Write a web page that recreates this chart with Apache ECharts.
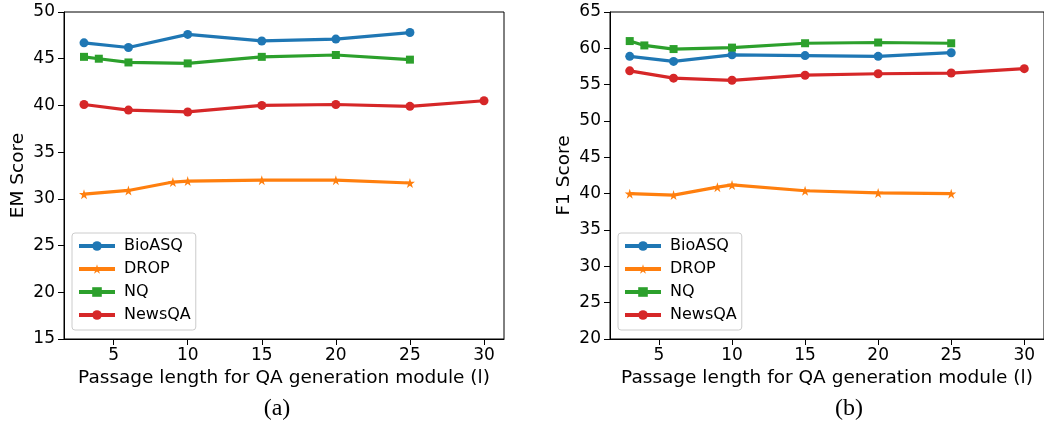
<!DOCTYPE html>
<html>
<head>
<meta charset="utf-8">
<title>EM / F1 vs passage length</title>
<script src="https://cdn.jsdelivr.net/npm/echarts@6/dist/echarts.min.js"></script>
<style>
  html, body { margin: 0; padding: 0; background: #fff; }
  #chart { width: 1044px; height: 428px; }
</style>
</head>
<body>
<div id="chart"></div>
<script>
// passage length (x) for each dataset
const seriesNames = ['BioASQ', 'DROP', 'NQ', 'NewsQA']
const xBio = [3, 6, 10, 15, 20, 25]
const xDrop = [3, 6, 9, 10, 15, 20, 25]
const xNq = [3, 4, 6, 10, 15, 20, 25]
const xNews = [3, 6, 10, 15, 20, 25, 30]

// (a) EM score
const emBio = [46.7, 46.2, 47.6, 46.9, 47.1, 47.8]
const emDrop = [30.5, 30.9, 31.8, 31.9, 32.0, 32.0, 31.7]
const emNq = [45.2, 45.0, 44.6, 44.5, 45.2, 45.4, 44.9]
const emNews = [40.1, 39.5, 39.3, 40.0, 40.1, 39.9, 40.5]

// (b) F1 score
const f1Bio = [58.9, 58.2, 59.1, 59.0, 58.9, 59.4]
const f1Drop = [40.0, 39.8, 40.9, 41.2, 40.4, 40.1, 40.0]
const f1Nq = [61.0, 60.4, 59.9, 60.1, 60.7, 60.8, 60.7]
const f1News = [56.9, 55.9, 55.6, 56.3, 56.5, 56.6, 57.2]

const xTicks = [5, 10, 15, 20, 25, 30]

const colors = ['#1f77b4', '#ff7f0e', '#2ca02c', '#d62728']
const star = 'path://M50,0 L61,35 L98,35 L68,57 L79,91 L50,70 L21,91 L32,57 L2,35 L39,35 Z'
const symbols = ['circle', star, 'rect', 'circle']
const symbolSizes = [9, 10, 8, 9]
const font = 'DejaVu Sans'

const pairs = (xs, ys) => xs.map((x, i) => [x, ys[i]])

function makeSeries (gridIdx, xsList, ysList) {
  return seriesNames.map((name, i) => ({
    name,
    type: 'line',
    xAxisIndex: gridIdx,
    yAxisIndex: gridIdx,
    data: pairs(xsList[i], ysList[i]),
    symbol: symbols[i],
    symbolSize: symbolSizes[i],
    showAllSymbol: true,
    color: colors[i],
    lineStyle: { width: 3.2, color: colors[i] },
    itemStyle: { color: colors[i] },
    animation: false
  }))
}

function xAxisFor (gridIdx) {
  return {
    type: 'value',
    gridIndex: gridIdx,
    min: 1.65,
    max: 31.35,
    name: 'Passage length for QA generation module (l)',
    nameLocation: 'middle',
    nameGap: 30,
    nameTextStyle: { fontFamily: font, fontSize: 18.5, color: '#000' },
    axisLine: { lineStyle: { color: '#000', width: 1 } },
    axisTick: { show: true, length: 6, lineStyle: { color: '#000' }, customValues: xTicks },
    axisLabel: { fontFamily: font, fontSize: 17, color: '#000', margin: 8, customValues: xTicks },
    splitLine: { show: false }
  }
}

function yAxisFor (gridIdx, name, min, max) {
  return {
    type: 'value',
    gridIndex: gridIdx,
    min,
    max,
    interval: 5,
    name,
    nameLocation: 'middle',
    nameGap: 36,
    nameRotate: 90,
    nameTextStyle: { fontFamily: font, fontSize: 18.5, color: '#000' },
    axisLine: { show: true, lineStyle: { color: '#000', width: 1 } },
    axisTick: { show: true, length: 6, lineStyle: { color: '#000' } },
    axisLabel: { fontFamily: font, fontSize: 17, color: '#000', margin: 9 },
    splitLine: { show: false }
  }
}

function legendAt (left, top) {
  return {
    orient: 'vertical',
    left,
    top,
    data: seriesNames,
    itemWidth: 36,
    itemHeight: 12,
    itemGap: 7,
    padding: [5, 5, 7, 5],
    backgroundColor: '#fff',
    borderColor: '#cccccc',
    borderWidth: 1,
    borderRadius: 3,
    lineStyle: { width: 4 },
    textStyle: { fontFamily: font, fontSize: 16, color: '#000', padding: [0, 0, 0, 4] }
  }
}

const chart = echarts.init(document.getElementById('chart'), null, { renderer: 'canvas' })

chart.setOption({
  animation: false,
  grid: [
    { left: 64, top: 12, width: 440, height: 327, show: true, borderColor: '#000', borderWidth: 1, backgroundColor: 'transparent' },
    { left: 610, top: 12, width: 440, height: 327, show: true, borderColor: '#000', borderWidth: 1, backgroundColor: 'transparent' }
  ],
  xAxis: [xAxisFor(0), xAxisFor(1)],
  yAxis: [yAxisFor(0, 'EM Score', 15, 50), yAxisFor(1, 'F1 Score', 20, 65)],
  legend: [legendAt(72, 233), legendAt(618, 233)],
  graphic: [
    { type: 'text', x: 277, y: 409, style: { text: '(a)', font: '24px "Liberation Serif"', fill: '#000', align: 'center', verticalAlign: 'middle' } },
    { type: 'text', x: 849, y: 409, style: { text: '(b)', font: '24px "Liberation Serif"', fill: '#000', align: 'center', verticalAlign: 'middle' } }
  ],
  series: [
    ...makeSeries(0, [xBio, xDrop, xNq, xNews], [emBio, emDrop, emNq, emNews]),
    ...makeSeries(1, [xBio, xDrop, xNq, xNews], [f1Bio, f1Drop, f1Nq, f1News])
  ]
})
</script>
</body>
</html>
